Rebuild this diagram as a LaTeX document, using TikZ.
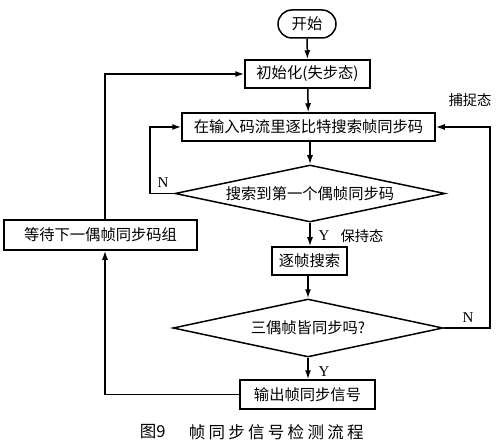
\documentclass[tikz,border=0pt]{standalone}
\usepackage{fontspec}
\newfontfamily\cjk{Noto Sans CJK SC}
\newfontfamily\capfont[LetterSpace=20]{Noto Sans CJK SC}
\newfontfamily\latinserif{Liberation Serif}
\usetikzlibrary{shapes.geometric,arrows.meta}
\begin{document}
\begin{tikzpicture}[x=1pt,y=-1pt,
  line width=1.5pt,
  box/.style={draw,rectangle,inner sep=0pt,font=\cjk\fontsize{15.3}{17}\selectfont},
  decision/.style={draw,diamond,aspect=4.7,inner sep=0pt,font=\cjk\fontsize{15.3}{17}\selectfont},
  flow/.style={-{Latex[length=9pt,width=6pt]}},
  lbl/.style={inner sep=0pt,font=\cjk\fontsize{14.3}{16}\selectfont},
  yn/.style={inner sep=0pt,font=\latinserif\fontsize{15}{17}\selectfont}]
\useasboundingbox (0,0) rectangle (500,446);
\node[box,rounded corners=14pt,minimum width=58pt,minimum height=28pt] (start) at (307,24) {开始};
\node[box,minimum width=125pt,minimum height=28pt] (init) at (307.5,74) {初始化(失步态)};
\node[box,minimum width=253pt,minimum height=28pt] (search) at (308.5,127) {在输入码流里逐比特搜索帧同步码};
\node[decision,minimum width=270pt,minimum height=57pt] (d1) at (310,193.5) {搜索到第一个偶帧同步码};
\node[box,minimum width=193pt,minimum height=30pt] (wait) at (100.5,235) {等待下一偶帧同步码组};
\node[box,minimum width=75pt,minimum height=28pt] (frame) at (309.5,261) {逐帧搜索};
\node[decision,minimum width=270pt,minimum height=58pt] (d2) at (308,328) {三偶帧皆同步吗?};
\node[box,minimum width=135pt,minimum height=29pt] (out) at (307.5,394.5) {输出帧同步信号};
\coordinate (lx) at (105,0);
\coordinate (rx) at (490,0);
\coordinate (nx) at (150,0);
\draw[flow] (start) -- (init);
\draw[flow] (init) -- (search);
\draw[flow] (search.south -| d1.north) -- (d1.north);
\draw[flow] (d1.south) -- (d1.south |- frame.north);
\draw[flow] (frame.south -| d2.north) -- (d2.north);
\draw[flow] (d2.south) -- (d2.south |- out.north);
\draw[flow] (d1.west) -- (d1.west -| nx) |- (search.west);
\draw[flow] (d2.east) -- (d2.east -| rx) |- (search.east);
\draw[flow] (out.west) -| (wait.south -| lx);
\draw[flow] (wait.north -| lx) |- (init.west);
\node[yn] (n1) at (163,183) {N};
\node[yn] (y1) at (324,236) {Y};
\node[lbl] (hold) at (362,236) {保持态};
\node[yn] (n2) at (468,318) {N};
\node[yn] (y2) at (324,372) {Y};
\node[lbl] (cap) at (470,100) {捕捉态};
\node[inner sep=0pt,anchor=west,font=\cjk\fontsize{16.5}{18}\selectfont] (fig) at (139,432) {图9};
\node[inner sep=0pt,anchor=west,font=\capfont\fontsize{16.5}{18}\selectfont] (title) at (188,432) {帧同步信号检测流程};
\end{tikzpicture}
\end{document}
